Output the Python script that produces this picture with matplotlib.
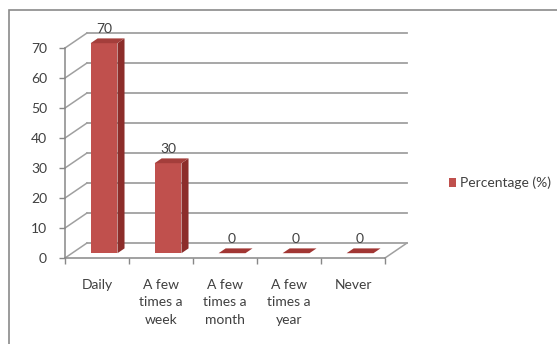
import matplotlib
matplotlib.use("Agg")
import matplotlib.pyplot as plt
from matplotlib.patches import Polygon, Rectangle, Patch
import numpy as np

categories = ["Daily", "A few\ntimes a\nweek", "A few\ntimes a\nmonth", "A few\ntimes a\nyear", "Never"]
values = [70, 30, 0, 0, 0]
series_name = "Percentage (%)"
yticks = [0, 10, 20, 30, 40, 50, 60, 70]

W, H = 557, 344
plt.rcParams['font.family'] = ['Lato', 'DejaVu Sans']
fig = plt.figure(figsize=(W / 100, H / 100), dpi=100)

# plot area in pixels: front floor line at y=258, x from 65 to 385
x_left_px, x_right_px = 65, 410
y_floor_px, y_top_px = 258, 20
ax = fig.add_axes([x_left_px / W, 1 - y_floor_px / H,
                   (x_right_px - x_left_px) / W, (y_floor_px - y_top_px) / H])
ax.set_xlim(-0.5, -0.5 + (x_right_px - x_left_px) / 64)
ax.set_ylim(0, (y_floor_px - y_top_px) / 3)
ax.patch.set_alpha(0)

# pseudo-3D depth offset (data units)
DX, DY = 22 / 64, 5.0
f0, f1 = 0.32, 0.64        # bar slab within depth
grid_c = "#a0a0a0"
txt_c = "#404040"
n = len(categories)
xmin, xmax = -0.5, n - 0.5

# back wall gridlines and left wall diagonals
for v in yticks:
    ax.plot([xmin + DX, xmax + DX], [v + DY, v + DY], color=grid_c, lw=1.3, zorder=1, clip_on=False)
    ax.plot([xmin, xmin + DX], [v, v + DY], color=grid_c, lw=1.1, zorder=1, clip_on=False)
# floor right edge
ax.plot([xmax, xmax + DX], [0, DY], color=grid_c, lw=1.1, zorder=1, clip_on=False)

front = "#c0504d"
side = "#8c2d2a"
top = "#a43e3b"
width = 0.42
x = np.arange(n)
xf = x + f0 * DX
bars = ax.bar(xf, values, width=width, bottom=f0 * DY, color=front, zorder=3, linewidth=0)
dd_x, dd_y = (f1 - f0) * DX, (f1 - f0) * DY
for xi, v in zip(xf, values):
    l, r = xi - width / 2, xi + width / 2
    b, t = f0 * DY, f0 * DY + v
    if v > 0:
        ax.add_patch(Polygon([(r, b), (r + dd_x, b + dd_y), (r + dd_x, t + dd_y), (r, t)],
                             closed=True, facecolor=side, edgecolor="none", zorder=3))
    ax.add_patch(Polygon([(l, t), (r, t), (r + dd_x, t + dd_y), (l + dd_x, t + dd_y)],
                         closed=True, facecolor=top if v > 0 else "#a13633",
                         edgecolor="none", zorder=4))
    ax.annotate(f"{v}", xy=(xi, t + dd_y), xytext=(0, 2.5), textcoords="offset points",
                ha="center", va="bottom", fontsize=10, color=txt_c, zorder=5)

# axes styling
for s in ["top", "right"]:
    ax.spines[s].set_visible(False)
ax.spines["left"].set_bounds(0, 70)
ax.spines["bottom"].set_bounds(xmin, xmax)
for s in ["left", "bottom"]:
    ax.spines[s].set_color("#888888")
    ax.spines[s].set_linewidth(1.1)
ax.set_yticks(yticks)
ax.set_yticklabels([str(t) for t in yticks])
ax.tick_params(axis="y", length=4, width=1, color="#888888", pad=9,
               labelsize=10, labelcolor=txt_c)
ax.set_xticks(x)
ax.set_xticklabels(categories, fontsize=10, color=txt_c, linespacing=1.55, va="top")
ax.tick_params(axis="x", length=0, pad=15)
ax.set_xticks(np.arange(n + 1) - 0.5, minor=True)
ax.tick_params(axis="x", which="minor", length=4, width=1, color="#888888")

# legend
fig.legend(handles=[Patch(facecolor=front, edgecolor="none")], labels=[series_name],
           loc="center left", bbox_to_anchor=(436 / W, 1 - 183 / H), frameon=False,
           handlelength=0.55, handleheight=0.55, handletextpad=0.3, fontsize=10,
           labelcolor=txt_c)

# chart frame
fig.patches.append(Rectangle((8.5 / W, -0.05), 1.0, 1 - 10.5 / H + 0.05,
                             transform=fig.transFigure, fill=False,
                             edgecolor="#8a8a8a", lw=1.2))

fig.savefig("out.png", dpi=100)
